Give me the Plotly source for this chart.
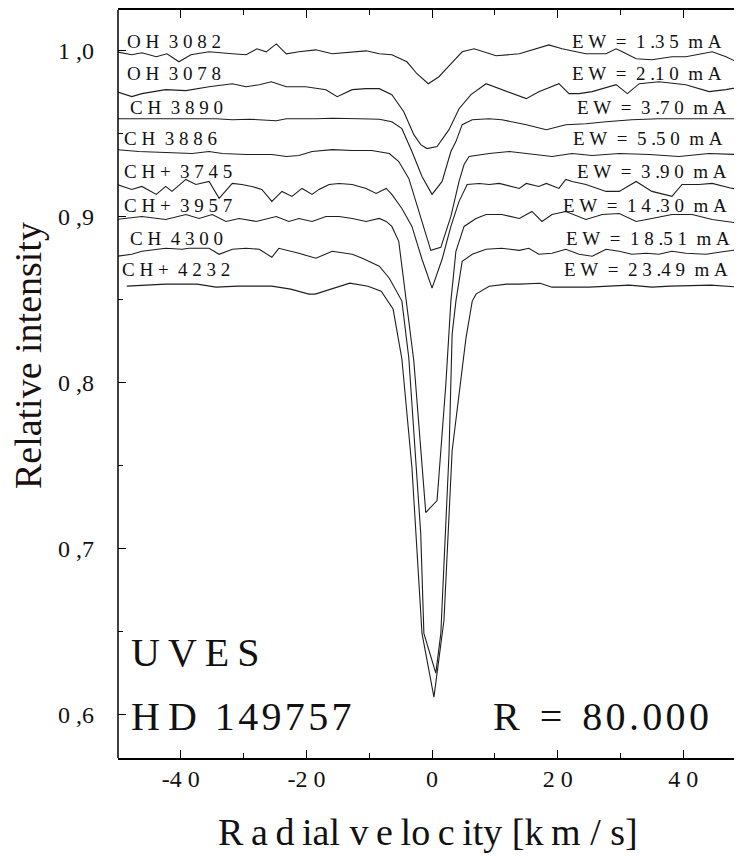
import plotly.graph_objects as go

# ---------------- data ----------------
v_oh3082 = [-50.2,-47.8,-46.2,-43.9,-42.2,-40.3,-38.4,-35.5,-31.8,-29.6,-27.9,-26.4,-24.8,-23.2,-21.2,-18.5,-15.9,-12.7,-10.5,-8.4,-6.4,-4.0,-2.4,-0.6,1.1,3.0,4.8,6.7,9.1,10.2,13.9,18.6,20.7,24.5,27.7,29.3,30.3,32.5,35.0,38.2,40.4,44.6,46.8,49.2]
i_oh3082 = [0.9994,0.9976,0.9988,0.9964,0.9982,0.9934,0.9976,0.9994,0.9982,0.9976,1.0012,0.9994,1.0042,0.9982,0.9994,1.0006,0.9982,0.9994,1.0000,0.9982,0.9976,0.9934,0.9862,0.9802,0.9844,0.9922,0.9994,1.0012,0.9982,0.9970,0.9982,1.0036,1.0012,0.9982,0.9982,1.0012,0.9994,0.9952,0.9946,0.9964,0.9964,0.9994,0.9964,0.9922]

v_oh3078 = [-50.2,-47.8,-46.2,-42.4,-39.2,-35.5,-31.8,-29.6,-27.5,-25.6,-23.2,-20.1,-16.9,-15.1,-12.7,-10.5,-8.4,-6.4,-4.5,-2.9,-1.8,-0.8,0.8,2.7,4.3,6.2,8.6,11.1,15.0,17.0,20.2,21.8,23.4,25.5,29.3,31.1,33.0,36.1,40.4,44.1,46.8,49.2]
i_oh3078 = [0.9754,0.9724,0.9742,0.9766,0.9760,0.9784,0.9802,0.9784,0.9796,0.9814,0.9784,0.9784,0.9766,0.9724,0.9766,0.9772,0.9772,0.9736,0.9633,0.9495,0.9435,0.9411,0.9423,0.9525,0.9651,0.9736,0.9802,0.9766,0.9712,0.9754,0.9802,0.9742,0.9742,0.9754,0.9796,0.9742,0.9802,0.9814,0.9796,0.9754,0.9766,0.9784]

v_ch3890 = [-50.2,-45.1,-39.8,-34.4,-31.8,-29.1,-24.8,-23.2,-18.5,-15.9,-11.6,-8.4,-6.4,-4.8,-3.2,-1.6,0.0,1.6,3.0,3.8,4.8,6.4,9.1,11.1,15.0,18.2,21.3,24.5,27.7,31.8,36.1,40.4,44.6,49.2]
i_ch3890 = [0.9591,0.9591,0.9588,0.9591,0.9585,0.9588,0.9579,0.9591,0.9591,0.9594,0.9591,0.9588,0.9573,0.9531,0.9393,0.9243,0.9135,0.9213,0.9393,0.9453,0.9555,0.9585,0.9591,0.9585,0.9555,0.9525,0.9555,0.9561,0.9573,0.9585,0.9591,0.9591,0.9591,0.9591]

v_ch3886 = [-50.2,-46.7,-42.4,-38.2,-35.5,-33.4,-29.6,-25.5,-23.2,-21.2,-19.1,-15.9,-12.7,-9.6,-6.8,-5.3,-3.7,-2.1,-0.2,1.4,3.0,4.3,5.1,5.9,9.1,12.3,15.4,19.1,22.3,25.5,29.8,34.6,39.3,44.1,49.2]
i_ch3886 = [0.9405,0.9393,0.9387,0.9381,0.9393,0.9381,0.9375,0.9375,0.9363,0.9369,0.9393,0.9405,0.9399,0.9399,0.9381,0.9333,0.9231,0.9032,0.8798,0.8816,0.9002,0.9213,0.9315,0.9363,0.9381,0.9393,0.9381,0.9363,0.9381,0.9369,0.9381,0.9375,0.9363,0.9381,0.9375]

v_chp3745 = [-50.2,-47.8,-46.2,-43.9,-42.4,-41.4,-39.2,-37.6,-35.5,-33.9,-31.8,-30.3,-28.7,-27.1,-25.5,-23.9,-22.3,-20.7,-19.1,-18.0,-16.4,-14.8,-12.7,-10.5,-8.9,-7.3,-6.4,-4.8,-3.2,-1.6,0.0,1.6,3.0,4.3,5.6,7.5,9.1,10.7,13.9,15.0,17.0,18.2,20.2,21.3,22.3,24.5,27.7,29.8,32.5,35.0,38.2,39.8,42.5,44.6,47.8,49.2]
i_chp3745 = [0.9195,0.9165,0.9183,0.9135,0.9183,0.9153,0.9225,0.9195,0.9213,0.9111,0.9201,0.9195,0.9183,0.9165,0.9093,0.9153,0.9123,0.9171,0.9135,0.9165,0.9195,0.9201,0.9195,0.9171,0.9141,0.9171,0.9135,0.9050,0.8942,0.8744,0.8570,0.8744,0.8942,0.9093,0.9195,0.9201,0.9195,0.9201,0.9171,0.9201,0.9183,0.9201,0.9171,0.9225,0.9213,0.9195,0.9153,0.9153,0.9213,0.9153,0.9123,0.9195,0.9195,0.9201,0.9171,0.9165]

v_chp3957 = [-50.2,-46.2,-42.4,-39.2,-37.1,-35.0,-32.8,-30.7,-28.0,-24.8,-22.8,-21.2,-19.1,-16.9,-14.8,-12.7,-10.5,-8.4,-7.3,-6.4,-5.3,-4.1,-2.9,-1.0,0.8,2.2,3.0,3.8,5.1,7.0,8.6,11.1,13.9,15.9,17.5,19.1,21.3,24.5,27.1,29.8,32.5,35.0,38.2,41.4,44.6,49.2]
i_chp3957 = [0.8984,0.9002,0.8984,0.9014,0.8990,0.9014,0.8972,0.8990,0.8972,0.9002,0.8972,0.8990,0.8972,0.9002,0.9002,0.8990,0.8972,0.8990,0.8972,0.8942,0.8852,0.8492,0.8131,0.7218,0.7290,0.7993,0.8492,0.8792,0.8942,0.8990,0.9014,0.9014,0.8990,0.9032,0.8972,0.9014,0.9032,0.8984,0.9014,0.9020,0.8972,0.8990,0.9014,0.9014,0.8984,0.8960]

v_ch4300 = [-50.2,-47.8,-46.2,-42.4,-39.8,-38.7,-35.5,-33.9,-31.8,-29.6,-27.5,-25.5,-24.4,-21.2,-18.5,-15.9,-12.7,-11.1,-8.4,-6.8,-4.8,-3.7,-1.8,-1.3,0.6,1.4,2.7,3.2,3.8,4.8,6.4,8.6,11.1,13.9,15.4,17.0,19.1,21.3,23.4,25.5,27.7,29.8,31.8,34.1,36.1,38.2,40.4,43.6,46.8,49.2]
i_ch4300 = [0.8762,0.8774,0.8792,0.8810,0.8804,0.8810,0.8810,0.8774,0.8804,0.8810,0.8804,0.8756,0.8810,0.8780,0.8750,0.8792,0.8774,0.8750,0.8702,0.8630,0.8492,0.8149,0.7091,0.6490,0.6250,0.6490,0.7572,0.8293,0.8492,0.8732,0.8774,0.8804,0.8810,0.8798,0.8810,0.8774,0.8780,0.8804,0.8774,0.8762,0.8804,0.8792,0.8774,0.8780,0.8774,0.8792,0.8780,0.8774,0.8792,0.8804]

v_chp4232 = [-48.6,-42.4,-37.4,-34.4,-30.9,-25.5,-22.5,-19.6,-18.6,-13.1,-10.2,-8.1,-6.2,-4.8,-3.2,-1.6,-1.3,0.3,1.9,3.2,5.4,6.4,7.0,9.1,11.9,13.9,17.2,19.1,25.0,27.7,31.4,35.0,37.9,44.4,49.2]
i_chp4232 = [0.8582,0.8594,0.8594,0.8576,0.8582,0.8582,0.8564,0.8534,0.8534,0.8600,0.8582,0.8552,0.8444,0.8143,0.7488,0.6490,0.6430,0.6106,0.6569,0.7590,0.8269,0.8492,0.8534,0.8582,0.8594,0.8594,0.8600,0.8576,0.8576,0.8582,0.8588,0.8576,0.8582,0.8588,0.8576]

species_labels = ["O H  3 0 8 2", "O H  3 0 7 8", "C H  3 8 9 0", "C H  3 8 8 6",
                  "C H +  3 7 4 5", "C H +  3 9 5 7", "C H  4 3 0 0", "C H +  4 2 3 2"]
ew_labels = ["E W  =  1 .3 5  m A", "E W  =  2 .1 0  m A", "E W  =  3 .7 0  m A", "E W  =  5 .5 0  m A",
             "E W  =  3 .9 0  m A", "E W  =  1 4 .3 0  m A", "E W  =  1 8 .5 1  m A", "E W  =  2 3 .4 9  m A"]

x_tick_vals = [-40, -20, 0, 20, 40]
x_tick_text = ["-4 0", "-2 0", "0", "2 0", "4 0"]
x_minor_vals = [-30, -10, 10, 30]
y_tick_vals = [0.6, 0.7, 0.8, 0.9, 1.0]
y_tick_text = ["0 ,6", "0 ,7", "0 ,8", "0 ,9", "1 ,0"]
y_minor_vals = [0.65, 0.75, 0.85, 0.95]

series = [(v_oh3082, i_oh3082), (v_oh3078, i_oh3078), (v_ch3890, i_ch3890), (v_ch3886, i_ch3886),
          (v_chp3745, i_chp3745), (v_chp3957, i_chp3957), (v_ch4300, i_ch4300), (v_chp4232, i_chp4232)]

# ---------------- layout constants ----------------
OFF = 8                      # page body margin in the browser
W, H = 734, 848              # figure size (page 8..742, 8..856)
ML, MR, MT, MB = 110, 0, 0, 98
PW, PH = W - ML - MR, H - MT - MB
FONT = "Liberation Serif"
NB = "\u00a0"
TH = "\u2009"   # thin space
HS = "\u200a"   # hair space


def fx(px):
    """page pixel x -> paper fraction"""
    return (px - OFF - ML) / PW


def fy(py):
    """page pixel y -> paper fraction"""
    return (H - MB - (py - OFF)) / PH


def sp(s):
    return s.replace(" ", NB)


fig = go.Figure()
for xs, ys in series:
    fig.add_trace(go.Scatter(x=xs, y=ys, mode="lines", showlegend=False, hoverinfo="skip",
                             line=dict(color="#1e1e1e", width=1.1)))

ann = []
sp_left = [125, 125, 128, 122, 122, 122, 128, 120]
sp_cy = [40, 72, 106, 137, 170, 204, 237, 268]
ew_right = [724, 724, 729, 725, 729, 729, 732, 730]
for i in range(8):
    ann.append(dict(text=sp(species_labels[i]), x=fx(sp_left[i]), y=fy(sp_cy[i]), xref="paper", yref="paper",
                    xanchor="left", yanchor="middle", showarrow=False,
                    font=dict(family=FONT, size=19, color="#111")))
    ann.append(dict(text=sp(ew_labels[i]), x=fx(ew_right[i]), y=fy(sp_cy[i]), xref="paper", yref="paper",
                    xanchor="right", yanchor="middle", showarrow=False,
                    font=dict(family=FONT, size=19, color="#111")))

uves = "U" + TH + "V" + TH + "E" + TH + "S"
hd = "H" + TH + "D" + NB + TH + HS.join("149757")
rr = "R" + NB + NB + "=" + NB + NB + HS.join("80.000")
xtitle = ("R" + TH + "a" + TH + "d" + TH + "ial" + NB + "v" + TH + "e" + TH + "lo" + TH + "c" + TH + "ity"
          + NB + "[k" + TH + "m" + NB + "/" + NB + "s]")

ann.append(dict(text=uves, x=fx(129), y=fy(652), xref="paper", yref="paper",
                xanchor="left", yanchor="middle", showarrow=False, font=dict(family=FONT, size=40, color="#111")))
ann.append(dict(text=hd, x=fx(129), y=fy(716), xref="paper", yref="paper",
                xanchor="left", yanchor="middle", showarrow=False, font=dict(family=FONT, size=40, color="#111")))
ann.append(dict(text=rr, x=fx(711), y=fy(716), xref="paper", yref="paper",
                xanchor="right", yanchor="middle", showarrow=False, font=dict(family=FONT, size=40, color="#111")))
ann.append(dict(text=xtitle, x=fx(428), y=fy(832), xref="paper", yref="paper",
                xanchor="center", yanchor="middle", showarrow=False, font=dict(family=FONT, size=38, color="#111")))
ann.append(dict(text="Relative intensity", x=fx(28), y=fy(355), xref="paper", yref="paper", textangle=-90,
                xanchor="center", yanchor="middle", showarrow=False, font=dict(family=FONT, size=38, color="#1a1010")))

fig.update_layout(
    width=W, height=H, margin=dict(l=ML, r=MR, t=MT, b=MB, pad=0),
    paper_bgcolor="white", plot_bgcolor="white",
    annotations=ann,
    shapes=[dict(type="line", xref="paper", yref="paper", x0=0, x1=0, y0=0, y1=1,
                 line=dict(color="black", width=1.5))],
    xaxis=dict(range=[-50, 49.35], showgrid=False, zeroline=False, showline=True, linecolor="black",
               linewidth=1.5, mirror="ticks", ticks="inside", ticklen=8, tickwidth=1.2, tickcolor="black",
               tickmode="array", tickvals=x_tick_vals, ticktext=[sp(t) for t in x_tick_text],
               tickfont=dict(family=FONT, size=24, color="#111"), ticklabelstandoff=-2,
               minor=dict(tickmode="array", tickvals=x_minor_vals, ticks="inside", ticklen=5,
                          tickwidth=1.2, tickcolor="black")),
    yaxis=dict(range=[0.5739, 1.0246], showgrid=False, zeroline=False, showline=False,
               mirror="ticks", ticks="inside", ticklen=8, tickwidth=1.2, tickcolor="black",
               tickmode="array", tickvals=y_tick_vals, ticktext=[sp(t) for t in y_tick_text],
               tickfont=dict(family=FONT, size=24, color="#111"), ticklabelstandoff=23,
               minor=dict(tickmode="array", tickvals=y_minor_vals, ticks="inside", ticklen=5,
                          tickwidth=1.2, tickcolor="black")),
)

fig.write_html("out.html")
